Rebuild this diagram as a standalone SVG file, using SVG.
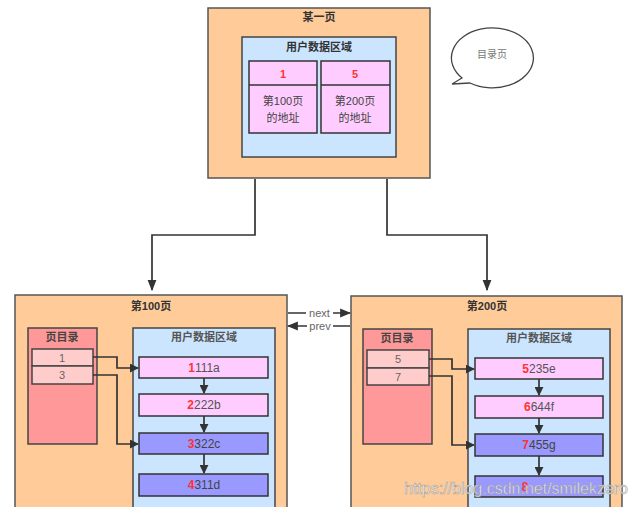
<svg xmlns="http://www.w3.org/2000/svg" width="638" height="507" viewBox="0 0 638 507">
<style>
text{font-family:"Liberation Sans","Noto Sans CJK SC",sans-serif;text-anchor:middle;dominant-baseline:central}
.page{fill:#FFCC99;stroke:#555;stroke-width:1.5}
.blue{fill:#CCE5FF;stroke:#444;stroke-width:1.5}
.cell{fill:#FFCCFF;stroke:#333;stroke-width:1.5}
.dir{fill:#FF9999;stroke:#444;stroke-width:1.5}
.dcell{fill:#FFCCCC;stroke:#444;stroke-width:1.5}
.recA{fill:#FFCCFF;stroke:#333;stroke-width:1.5}
.recB{fill:#9999FF;stroke:#333;stroke-width:1.5}
.t{font-size:11px;fill:#333;font-weight:bold}
.tc{font-size:11px;fill:#444}
.r{font-size:12px;fill:#555}
.red{fill:#FF3333;font-weight:bold}
.line{fill:none;stroke:#333;stroke-width:1.7}
.lbl{font-size:11px;fill:#666}
</style>
<defs>
<marker id="ah" viewBox="0 0 10 10" refX="9" refY="5" markerWidth="9" markerHeight="9" orient="auto" markerUnits="userSpaceOnUse"><path d="M0,0L10,5L0,10z" fill="#333"/></marker>
<marker id="ah2" viewBox="0 0 10 10" refX="9" refY="5" markerWidth="11" markerHeight="11" orient="auto" markerUnits="userSpaceOnUse"><path d="M0,1L10,5L0,9z" fill="#333"/></marker>
</defs>

<g id="top-page">
<rect class="page" x="208" y="8" width="222" height="170"/>
<text class="t" x="319" y="17">某一页</text>
<rect class="blue" x="242" y="37" width="154" height="120"/>
<text class="t" x="319" y="47">用户数据区域</text>
<rect class="cell" x="249" y="61" width="68" height="72"/>
<line x1="249" y1="85" x2="317" y2="85" stroke="#333" stroke-width="1.5"/>
<text class="t red" x="283" y="74">1</text>
<text class="tc" x="283" y="101">第100页</text>
<text class="tc" x="283" y="118">的地址</text>
<rect class="cell" x="321" y="61" width="69" height="72"/>
<line x1="321" y1="85" x2="390" y2="85" stroke="#333" stroke-width="1.5"/>
<text class="t red" x="355" y="74">5</text>
<text class="tc" x="355" y="101">第200页</text>
<text class="tc" x="355" y="118">的地址</text>
</g>

<g id="bubble">
<path d="M470,83 A41,30 0 1 0 462,78 L452,84 Z" fill="#fff" stroke="#444" stroke-width="1.3"/>
<text x="492" y="54" style="font-size:10px;fill:#777">目录页</text>
</g>

<g id="page100">
<rect class="page" x="15" y="295" width="272" height="220"/>
<text class="t" x="151" y="306">第100页</text>
<rect class="dir" x="28" y="328" width="69" height="116"/>
<text class="t" x="62" y="337" style="fill:#444">页目录</text>
<rect class="dcell" x="32" y="349" width="61" height="17"/>
<text class="tc" x="62" y="357.5" style="fill:#666">1</text>
<rect class="dcell" x="32" y="366" width="61" height="18"/>
<text class="tc" x="62" y="375" style="fill:#666">3</text>
<rect class="blue" x="133" y="328" width="142" height="190"/>
<text class="t" x="204" y="337" style="fill:#555">用户数据区域</text>
<rect class="recA" x="139" y="357" width="129" height="21"/>
<text class="r" x="204" y="367.5"><tspan class="red">1</tspan>111a</text>
<rect class="recA" x="139" y="394" width="129" height="22"/>
<text class="r" x="204" y="405"><tspan class="red">2</tspan>222b</text>
<rect class="recB" x="139" y="433" width="129" height="21"/>
<text class="r" x="204" y="443.5" style="fill:#444"><tspan class="red">3</tspan>322c</text>
<rect class="recB" x="139" y="474" width="129" height="22"/>
<text class="r" x="204" y="485" style="fill:#444"><tspan class="red">4</tspan>311d</text>
</g>

<g id="page200">
<rect class="page" x="351" y="296" width="271" height="220"/>
<text class="t" x="487" y="306">第200页</text>
<rect class="dir" x="363" y="329" width="69" height="115"/>
<text class="t" x="397" y="338" style="fill:#444">页目录</text>
<rect class="dcell" x="367" y="350" width="62" height="18"/>
<text class="tc" x="398" y="359" style="fill:#666">5</text>
<rect class="dcell" x="367" y="368" width="62" height="17"/>
<text class="tc" x="398" y="376.5" style="fill:#666">7</text>
<rect class="blue" x="468" y="329" width="142" height="190"/>
<text class="t" x="539" y="338" style="fill:#555">用户数据区域</text>
<rect class="recA" x="475" y="358" width="128" height="21"/>
<text class="r" x="539" y="368.5"><tspan class="red">5</tspan>235e</text>
<rect class="recA" x="475" y="396" width="128" height="22"/>
<text class="r" x="539" y="407"><tspan class="red">6</tspan>644f</text>
<rect class="recB" x="475" y="434" width="128" height="22"/>
<text class="r" x="539" y="445" style="fill:#444"><tspan class="red">7</tspan>455g</text>
<rect class="recB" x="475" y="476" width="128" height="21"/>
<text class="r" x="525" y="486.5"><tspan class="red">8</tspan></text>
</g>

<g id="connectors">
<path class="line" d="M255,179V235H152V290" marker-end="url(#ah2)"/>
<path class="line" d="M387,179V235H487V290" marker-end="url(#ah2)"/>
<path class="line" d="M93,357H117V368H138" marker-end="url(#ah)"/>
<path class="line" d="M93,375H117V444H138" marker-end="url(#ah)"/>
<path class="line" d="M429,359H452V369H474" marker-end="url(#ah)"/>
<path class="line" d="M429,376H452V445H474" marker-end="url(#ah)"/>
<path class="line" d="M204,378V393" marker-end="url(#ah)"/>
<path class="line" d="M204,416V432" marker-end="url(#ah)"/>
<path class="line" d="M204,454V473" marker-end="url(#ah)"/>
<path class="line" d="M539,379V395" marker-end="url(#ah)"/>
<path class="line" d="M539,418V433" marker-end="url(#ah)"/>
<path class="line" d="M539,456V475" marker-end="url(#ah)"/>
<path class="line" d="M288,313H350" marker-end="url(#ah2)"/>
<path class="line" d="M350,326H288" marker-end="url(#ah2)"/>
<rect x="306" y="307" width="27" height="11" fill="#fff"/>
<text class="lbl" x="319.5" y="312.5">next</text>
<rect x="307" y="320" width="26" height="12" fill="#fff"/>
<text class="lbl" x="320" y="326">prev</text>
</g>

<text x="516" y="488" style="font-size:16px;fill:#fff;stroke:#999;stroke-width:0.6;opacity:0.9" textLength="224">https://blog.csdn.net/smilekzero</text>
</svg>
